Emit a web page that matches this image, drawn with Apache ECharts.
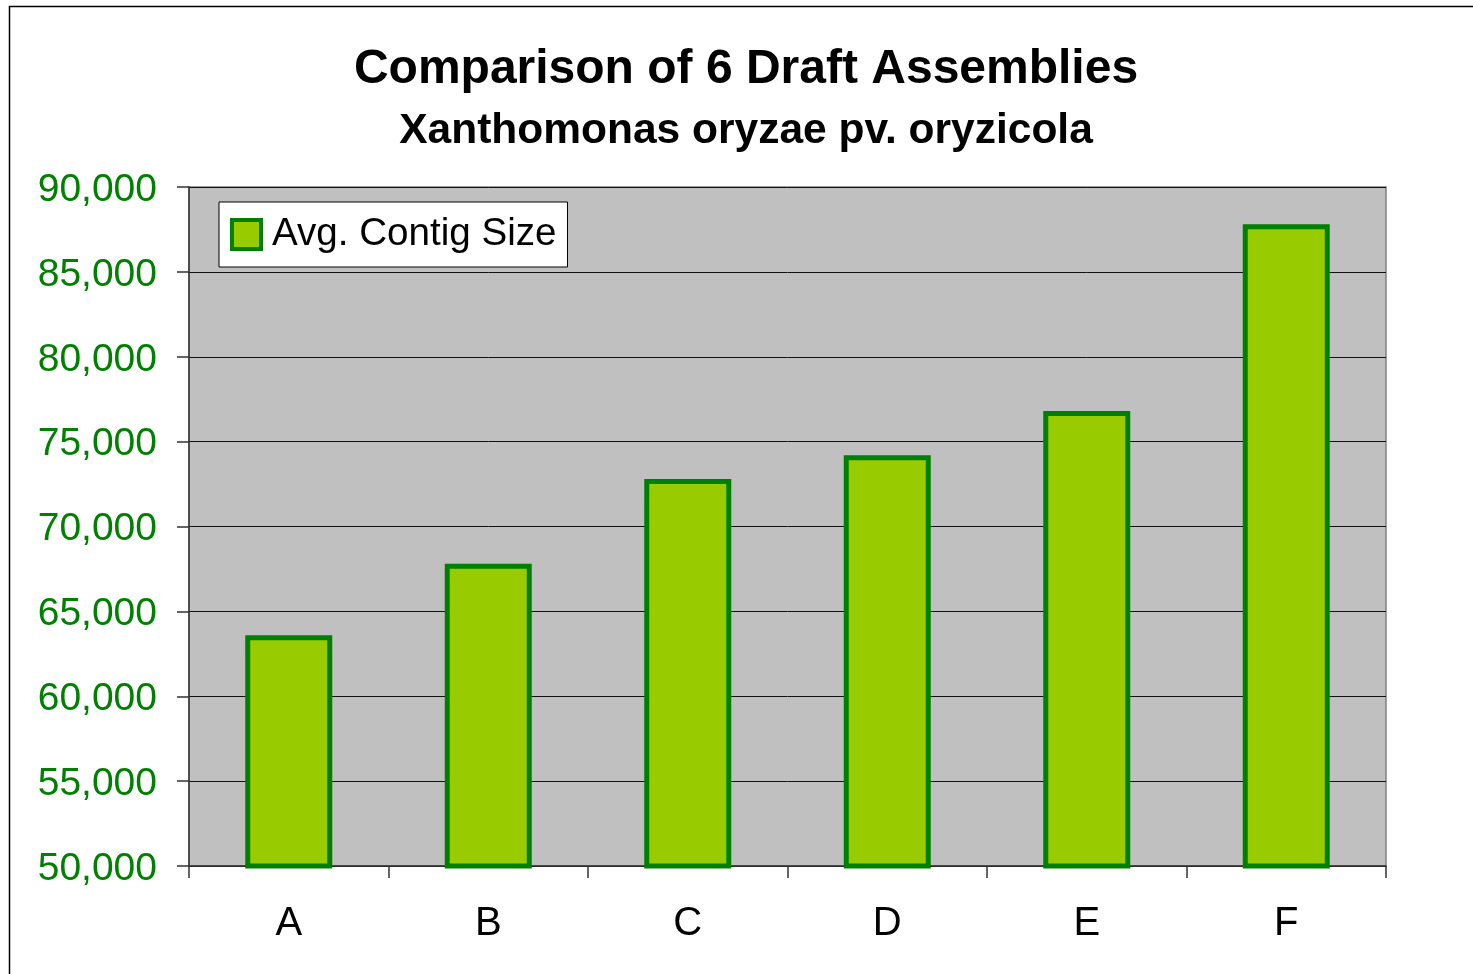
<!DOCTYPE html>
<html>
<head>
<meta charset="utf-8">
<script src="https://cdn.jsdelivr.net/npm/echarts@6/dist/echarts.min.js"></script>
<style>
  html, body { margin: 0; padding: 0; background: #fff; }
  #chart { width: 1473px; height: 974px; }
</style>
</head>
<body>
<div id="chart"></div>
<script>
// Draft assemblies and their average contig size
const categories = ['A', 'B', 'C', 'D', 'E', 'F'];
const avgContigSize = [63600, 67800, 72800, 74200, 76800, 87800];
const seriesName = 'Avg. Contig Size';
const titleText = 'Comparison of 6 Draft Assemblies';
const subtitleText = 'Xanthomonas oryzae pv. oryzicola';
const yMin = 50000, yMax = 90000, yStep = 5000;

const FONT = '"Liberation Sans", Arial, sans-serif';
const chart = echarts.init(document.getElementById('chart'), null, { renderer: 'canvas' });

chart.setOption({
  backgroundColor: '#ffffff',
  animation: false,
  graphic: [{
    type: 'rect',
    shape: { x: 9.5, y: 6.5, width: 1500, height: 1000 },
    style: { fill: 'none', stroke: '#000', lineWidth: 1.5 },
    silent: true
  }],
  title: [{
    text: titleText,
    left: 746, top: 46, padding: 0, textAlign: 'center',
    textStyle: { fontFamily: FONT, fontWeight: 'bold', fontSize: 48, lineHeight: 48, color: '#000' }
  }, {
    text: subtitleText,
    left: 746, top: 110, padding: 0, textAlign: 'center',
    textStyle: { fontFamily: FONT, fontWeight: 'bold', fontSize: 42.5, lineHeight: 43, color: '#000' }
  }],
  legend: {
    left: 219, top: 202,
    orient: 'horizontal',
    padding: [13, 11, 13, 11],
    backgroundColor: '#ffffff',
    borderColor: '#000',
    borderWidth: 1,
    borderRadius: 0,
    itemWidth: 29, itemHeight: 29,
    icon: 'rect',
    itemStyle: { color: '#99CC00', borderColor: '#008000', borderWidth: 4 },
    textStyle: { fontFamily: FONT, fontSize: 38.6, color: '#000', padding: [0, 0, 0, 6] },
    data: [seriesName]
  },
  grid: {
    left: 189, top: 187, width: 1197, height: 679,
    show: true,
    backgroundColor: '#C0C0C0',
    borderColor: '#808080',
    borderWidth: 1.5,
    containLabel: false
  },
  xAxis: {
    type: 'category',
    data: categories,
    axisLine: { show: true, lineStyle: { color: '#333', width: 1.5 } },
    axisTick: { show: true, length: 12, lineStyle: { color: '#333', width: 1.5 } },
    axisLabel: { fontFamily: FONT, fontSize: 40, color: '#000', margin: 38 },
    splitLine: { show: false }
  },
  yAxis: {
    type: 'value',
    min: yMin, max: yMax, interval: yStep,
    axisLine: { show: true, lineStyle: { color: '#333', width: 1.5 } },
    axisTick: { show: true, length: 12, lineStyle: { color: '#333', width: 1.5 } },
    axisLabel: {
      fontFamily: FONT, fontSize: 39, color: '#008000', margin: 32,
      formatter: v => '{n|' + v.toLocaleString('en-US') + '}',
      rich: {
        n: { fontFamily: FONT, fontSize: 39, color: '#008000', lineHeight: 39, padding: [6, 0, 0, 0] }
      }
    },
    splitLine: { show: true, lineStyle: { color: '#111', width: 1 } }
  },
  series: [{
    name: seriesName,
    type: 'bar',
    data: avgContigSize,
    barWidth: 87,
    itemStyle: { color: '#99CC00', borderColor: '#008000', borderWidth: 5 },
    emphasis: { disabled: true }
  }]
});
</script>
</body>
</html>
